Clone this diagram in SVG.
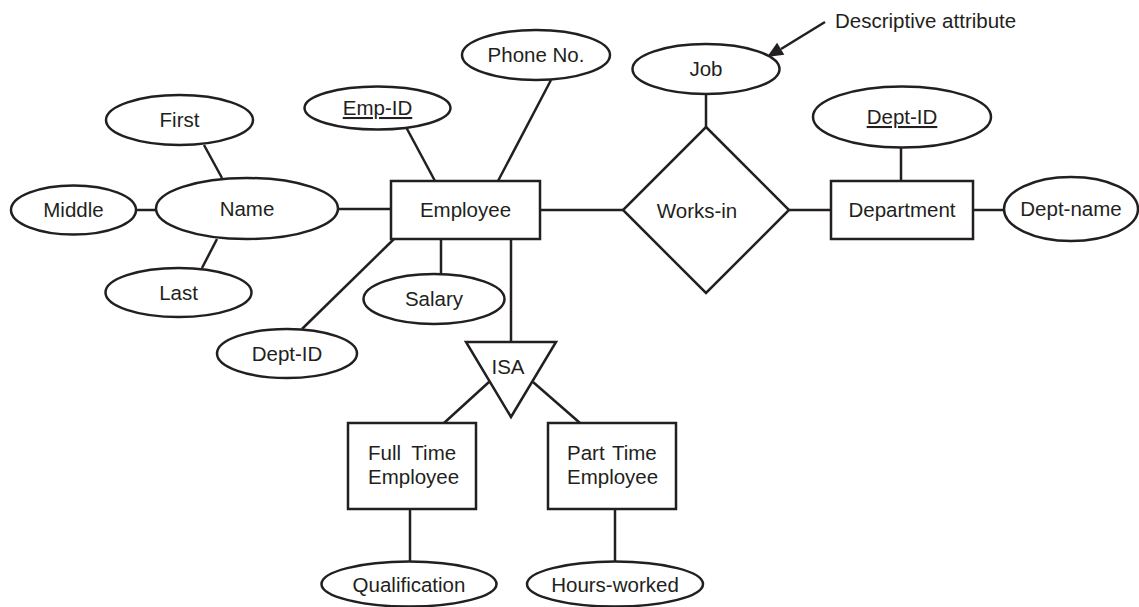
<svg xmlns="http://www.w3.org/2000/svg" width="1139" height="607" viewBox="0 0 1139 607">
<style>
.s{fill:#fff;stroke:#231f20;stroke-width:2.5}
.c line{stroke:#231f20;stroke-width:2.5}
.ah{fill:#231f20}
text{font-family:"Liberation Sans",Arial,sans-serif;font-size:20.5px;fill:#231f20;text-anchor:middle}
.u{text-decoration:underline}
</style>
<rect width="1139" height="607" fill="#fff"/>
<g class="c" id="connectors">
<line x1="204" y1="145" x2="222" y2="178"/>
<line x1="217" y1="239" x2="202" y2="268"/>
<line x1="136" y1="210" x2="156" y2="210"/>
<line x1="338" y1="209" x2="391" y2="209"/>
<line x1="406" y1="127" x2="435" y2="181"/>
<line x1="551" y1="80" x2="498" y2="181"/>
<line x1="394" y1="239" x2="302" y2="329"/>
<line x1="441" y1="239" x2="441" y2="274"/>
<line x1="511" y1="239" x2="511" y2="342"/>
<line x1="540" y1="210" x2="623" y2="210"/>
<line x1="706" y1="94" x2="706" y2="127"/>
<line x1="789" y1="210" x2="831" y2="210"/>
<line x1="901" y1="147" x2="901" y2="181"/>
<line x1="973" y1="210" x2="1003" y2="210"/>
<line x1="489" y1="382" x2="444" y2="423"/>
<line x1="533" y1="382" x2="580" y2="423"/>
<line x1="410" y1="509" x2="410" y2="562"/>
<line x1="615" y1="509" x2="615" y2="562"/>
<line x1="825" y1="22" x2="781" y2="49"/>
<polygon class="ah" points="767,57 784.3,54.7 777.1,42.7"/>
</g>
<g id="first"><ellipse class="s" cx="179.5" cy="120" rx="73.5" ry="25"/><text x="179.5" y="127">First</text></g>
<g id="name"><ellipse class="s" cx="247" cy="208.5" rx="91" ry="30.5"/><text x="247" y="216">Name</text></g>
<g id="middle"><ellipse class="s" cx="73.5" cy="210" rx="62.5" ry="24.5"/><text x="73.5" y="217">Middle</text></g>
<g id="last"><ellipse class="s" cx="178.5" cy="292.5" rx="73" ry="24.5"/><text x="178.5" y="300">Last</text></g>
<g id="empid"><ellipse class="s" cx="377.5" cy="108" rx="73" ry="21.5"/><text class="u" x="377.5" y="115">Emp-ID</text></g>
<g id="phone"><ellipse class="s" cx="536" cy="55" rx="74" ry="25"/><text x="536" y="62">Phone No.</text></g>
<g id="employee"><rect class="s" x="391" y="181" width="149" height="58"/><text x="465.5" y="217">Employee</text></g>
<g id="salary"><ellipse class="s" cx="434" cy="299" rx="70.5" ry="25"/><text x="434" y="306">Salary</text></g>
<g id="deptid-emp"><ellipse class="s" cx="287" cy="353.5" rx="70" ry="24.5"/><text x="287" y="361">Dept-ID</text></g>
<g id="job"><ellipse class="s" cx="706" cy="69" rx="73.5" ry="25"/><text x="706" y="76">Job</text></g>
<g id="worksin"><polygon class="s" points="706,127 789,210 706,293 623,210"/><text x="697" y="218">Works-in</text></g>
<g id="department"><rect class="s" x="831" y="181" width="142" height="58"/><text x="902" y="217">Department</text></g>
<g id="deptid"><ellipse class="s" cx="902" cy="117" rx="89" ry="30.5"/><text class="u" x="902" y="124">Dept-ID</text></g>
<g id="deptname"><ellipse class="s" cx="1071" cy="209" rx="67" ry="32"/><text x="1071" y="216">Dept-name</text></g>
<g id="isa"><polygon class="s" points="466,342 556,342 511,417"/><text x="508" y="374">ISA</text></g>
<g id="fulltime"><rect class="s" x="348" y="423" width="128" height="86"/><text x="368" y="460" style="text-anchor:start" word-spacing="5">Full Time</text><text x="368" y="484" style="text-anchor:start">Employee</text></g>
<g id="parttime"><rect class="s" x="548" y="423" width="128" height="86"/><text x="567" y="460" style="text-anchor:start" word-spacing="2">Part Time</text><text x="567" y="484" style="text-anchor:start">Employee</text></g>
<g id="qualification"><ellipse class="s" cx="409" cy="584" rx="87.5" ry="22.5"/><text x="409" y="592">Qualification</text></g>
<g id="hours"><ellipse class="s" cx="615" cy="584" rx="88" ry="22.5"/><text x="615" y="592">Hours-worked</text></g>
<g id="descriptive"><text x="835" y="28" style="text-anchor:start">Descriptive attribute</text></g>
</svg>
